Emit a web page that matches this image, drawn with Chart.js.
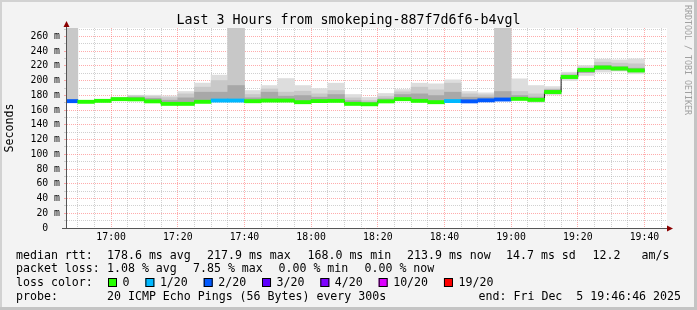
<!DOCTYPE html>
<html>
<head>
<meta charset="utf-8">
<style>
html, body { margin: 0; padding: 0; background: #f3f3f3; }
canvas { display: block; }
</style>
<script src="https://cdn.jsdelivr.net/npm/chart.js@4.4.1/dist/chart.umd.min.js"></script>
</head>
<body>
<canvas id="chart" width="697" height="310"></canvas>
<script>
// 5 minute buckets (start time of each step)
const buckets = ['16:45','16:50','16:55','17:00','17:05','17:10','17:15','17:20','17:25','17:30',
                 '17:35','17:40','17:45','17:50','17:55','18:00','18:05','18:10','18:15','18:20',
                 '18:25','18:30','18:35','18:40','18:45','18:50','18:55','19:00','19:05','19:10',
                 '19:15','19:20','19:25','19:30','19:35'];
// median rtt in ms
const medianRtt = [172.2,171.3,172.6,174.9,174.6,171.9,168.5,168.5,171.3,173.0,
                   173.0,172.1,173.0,173.0,170.8,172.3,172.6,168.5,168.0,171.9,
                   174.9,172.6,170.8,172.3,171.9,173.3,174.4,175.3,173.9,184.6,
                   205.0,214.5,217.9,216.5,213.9];
// lost pings out of 20
const lossCount = [2,0,0,0,0,0,0,0,0,1,
                   1,0,0,0,0,0,0,0,0,0,
                   0,0,0,1,2,2,2,0,0,0,
                   0,0,0,0,0];
// smoke: spread of the 20 pings (ms)
const pingMin  = [170.8,170.5,171.8,174.0,173.8,171.0,167.8,167.8,170.5,172.0,
                  172.0,171.3,172.2,172.2,170.0,171.5,171.8,167.7,167.2,171.1,
                  174.1,171.8,170.0,171.5,171.1,172.5,173.6,174.5,170.5,180.7,
                  200.2,207.1,211.6,213.0,209.3];
const pingLow  = [171.5,171.0,172.3,174.5,174.2,171.5,168.2,168.2,171.0,172.5,
                  172.5,171.8,172.6,172.6,170.4,172.0,172.2,168.2,167.6,171.5,
                  174.5,172.2,170.4,172.0,171.5,172.9,174.0,175.0,173.0,183.0,
                  203.0,211.0,215.0,214.5,212.0];
const pingCore = [174.0,172.0,173.5,176.5,177.6,176.0,173.5,176.7,184.4,184.4,
                  193.4,176.7,184.4,179.0,179.8,177.6,181.2,173.0,170.8,175.3,
                  181.2,182.1,179.8,184.4,177.6,177.6,185.3,179.9,177.6,187.5,
                  207.5,216.5,220.5,219.0,217.0];
const pingHigh = [280.0,172.5,174.0,177.0,179.4,178.5,177.0,182.0,191.2,200.2,
                  280.0,181.2,188.8,184.4,185.7,182.1,186.6,176.7,173.0,178.5,
                  184.8,191.2,187.5,196.6,182.1,180.8,280.0,185.3,182.1,188.8,
                  209.3,218.4,225.1,223.8,222.9];
const pingMax  = [280.0,173.0,174.5,177.5,180.3,180.3,179.4,185.3,196.7,207.5,
                  280.0,186.6,193.4,202.9,193.4,189.3,196.6,181.2,177.2,182.6,
                  188.0,196.6,195.7,201.1,185.3,183.5,280.0,202.5,193.4,192.0,
                  211.5,220.6,229.2,228.3,229.6];

const timeLabels = ['17:00','17:20','17:40','18:00','18:20','18:40','19:00','19:20','19:40'];
const yLabelValues = [0,20,40,60,80,100,120,140,160,180,200,220,240,260];

const lossLevels = [0, 1, 2, 3, 4, 10, 19];
const lossNames  = ['0','1/20','2/20','3/20','4/20','10/20','19/20'];
const lossColors = ['#26ff00','#00b8ff','#0059ff','#5e00ff','#7e00ff','#dd00ff','#ff0000'];

const medianStats = ['178.6 ms avg','217.9 ms max','168.0 ms min','213.9 ms now','14.7 ms sd','12.2','am/s'];
const lossStats = ['1.08 % avg','7.85 % max','0.00 % min','0.00 % now'];
const titleText = 'Last 3 Hours from smokeping-887f7d6f6-b4vgl';
const probeText = '20 ICMP Echo Pings (56 Bytes) every 300s';
const endText = 'end: Fri Dec  5 19:46:46 2025';

const MONO = 'DejaVu Sans Mono';
const STEP = 5;
const toMin = s => { const p = s.split(':').map(Number); return p[0] * 60 + p[1]; };
const fmt = v => {
  const t = Math.round(v);
  return String(Math.floor(t / 60)).padStart(2, '0') + ':' + String(t % 60).padStart(2, '0');
};
const endMin = toMin('19:46') + 46 / 60;
const startMin = endMin - 180;

function colorForLoss(n) {
  let c = lossColors[0];
  lossLevels.forEach((lv, i) => { if (n >= lv) c = lossColors[i]; });
  return c;
}

const centers = buckets.map(b => toMin(b) + STEP / 2);
const band = (lo, hi) => centers.map((x, i) => ({x: x, y: [lo[i], hi[i]]}));
const BAND = 2.2; // half thickness of the loss coloured median band
const medianBand = centers.map((x, i) => ({x: x, y: [medianRtt[i] - BAND, medianRtt[i] + BAND]}));
const medianLine = buckets.map((b, i) => ({x: toMin(b), y: medianRtt[i]}));
medianLine.push({x: toMin(buckets[buckets.length - 1]) + STEP, y: medianRtt[medianRtt.length - 1]});

const barOpts = {type: 'bar', grouped: false, categoryPercentage: 1, barPercentage: 1, borderWidth: 0};

const MAJOR = 'rgba(255,90,90,0.5)';
const MINOR = 'rgba(170,170,170,0.55)';

const framePlugin = {
  id: 'frame',
  beforeDraw(chart) {
    const ctx = chart.ctx, a = chart.chartArea;
    ctx.save();
    ctx.fillStyle = '#f3f3f3';
    ctx.fillRect(0, 0, chart.width, chart.height);
    ctx.fillStyle = '#d2d2d2';
    ctx.fillRect(0, 0, chart.width, 2);
    ctx.fillRect(0, 0, 2, chart.height);
    ctx.fillStyle = '#c4c4c4';
    ctx.fillRect(chart.width - 3, 0, 3, chart.height);
    ctx.fillRect(0, chart.height - 3, chart.width, 3);
    ctx.fillStyle = '#ffffff';
    ctx.fillRect(a.left, a.top, a.right - a.left, a.bottom - a.top);
    ctx.restore();
  },
  afterDraw(chart) {
    const ctx = chart.ctx, a = chart.chartArea;
    ctx.save();
    // axes
    ctx.strokeStyle = '#555555';
    ctx.lineWidth = 1;
    ctx.beginPath();
    ctx.moveTo(a.left - 0.5, a.bottom + 1);
    ctx.lineTo(a.left - 0.5, a.top - 2);
    ctx.moveTo(a.left - 5, a.bottom + 0.5);
    ctx.lineTo(a.right + 2, a.bottom + 0.5);
    ctx.stroke();
    ctx.fillStyle = '#8b0000';
    ctx.beginPath();
    ctx.moveTo(a.left - 0.5, a.top - 7);
    ctx.lineTo(a.left - 3.5, a.top - 1);
    ctx.lineTo(a.left + 2.5, a.top - 1);
    ctx.closePath();
    ctx.fill();
    ctx.beginPath();
    ctx.moveTo(a.right + 6, a.bottom + 0.5);
    ctx.lineTo(a.right, a.bottom - 2.5);
    ctx.lineTo(a.right, a.bottom + 3.5);
    ctx.closePath();
    ctx.fill();

    // title
    ctx.fillStyle = '#000';
    ctx.font = '13.3px "' + MONO + '"';
    ctx.textAlign = 'center';
    ctx.textBaseline = 'alphabetic';
    ctx.fillText(titleText, chart.width / 2, 23.5);

    // legend rows
    ctx.font = '11.6px "' + MONO + '"';
    ctx.textAlign = 'left';
    const rows = [258.5, 272.2, 286, 299.7];
    ctx.fillText('median rtt:', 16, rows[0]);
    [107, 207, 307.5, 407, 506, 592.5, 641.5].forEach((x, i) => ctx.fillText(medianStats[i], x, rows[0]));
    ctx.fillText('packet loss:', 16, rows[1]);
    [107, 193, 278.5, 364.5].forEach((x, i) => ctx.fillText(lossStats[i], x, rows[1]));
    ctx.fillText('loss color:', 16, rows[2]);
    let bx = 108;
    lossNames.forEach((name, i) => {
      ctx.fillStyle = lossColors[i];
      ctx.fillRect(bx, 278, 9, 9);
      ctx.strokeStyle = '#000';
      ctx.strokeRect(bx + 0.5, 278.5, 8, 8);
      ctx.fillStyle = '#000';
      ctx.fillText(name, bx + 14.5, rows[2]);
      bx += 30.4 + ctx.measureText(name).width;
    });
    ctx.fillText('probe:', 16, rows[3]);
    ctx.fillText(probeText, 107, rows[3]);
    ctx.textAlign = 'right';
    ctx.fillText(endText, 681, rows[3]);

    // watermark
    ctx.translate(687.5, 5);
    ctx.rotate(Math.PI / 2);
    ctx.textAlign = 'left';
    ctx.textBaseline = 'middle';
    ctx.fillStyle = '#a0a0a0';
    ctx.font = '8.3px "' + MONO + '"';
    ctx.fillText('RRDTOOL / TOBI OETIKER', 0, 0);
    ctx.restore();
  }
};

new Chart(document.getElementById('chart'), {
  type: 'bar',
  data: {
    datasets: [
      Object.assign({}, barOpts, {
        data: medianBand, order: 0,
        backgroundColor: ctx => colorForLoss(lossCount[ctx.dataIndex])
      }),
      {
        type: 'line', data: medianLine, order: 1, stepped: true,
        borderColor: '#202020', borderWidth: 1, pointRadius: 0, fill: false
      },
      Object.assign({}, barOpts, {data: band(pingLow, pingCore), backgroundColor: '#a8a8a8', order: 2}),
      Object.assign({}, barOpts, {data: band(pingLow, pingHigh), backgroundColor: '#c8c8c8', order: 3}),
      Object.assign({}, barOpts, {data: band(pingMin, pingMax), backgroundColor: '#dddddd', order: 4})
    ]
  },
  options: {
    responsive: false,
    animation: false,
    events: [],
    layout: {padding: {left: 0, right: 30, top: 28, bottom: 62}},
    plugins: {legend: {display: false}, tooltip: {enabled: false}, title: {display: false}},
    scales: {
      x: {
        type: 'linear', min: startMin, max: endMin, offset: false,
        afterBuildTicks: ax => {
          const t = [];
          for (let v = Math.ceil(startMin / STEP) * STEP; v <= endMin; v += STEP) t.push({value: v});
          ax.ticks = t;
        },
        afterFit: ax => { ax.height = 20; },
        grid: {
          offset: false, drawTicks: false, lineWidth: 1,
          color: c => timeLabels.includes(fmt(c.tick.value)) ? MAJOR : MINOR
        },
        border: {display: false, dash: [1, 1]},
        ticks: {
          autoSkip: false, maxRotation: 0, padding: 4, color: '#000',
          font: {family: MONO, size: 9.8},
          callback: v => timeLabels.includes(fmt(v)) ? fmt(v) : ''
        }
      },
      y: {
        min: 0, max: 271.5,
        afterBuildTicks: ax => {
          const t = [];
          for (let v = 0; v <= 270; v += 10) t.push({value: v});
          ax.ticks = t;
        },
        afterFit: ax => { ax.width = 67; },
        grid: {
          drawTicks: true, tickLength: 3, lineWidth: 1,
          color: c => yLabelValues.includes(c.tick.value) ? MAJOR : MINOR
        },
        border: {display: false, dash: [1, 1]},
        ticks: {
          autoSkip: false, padding: 4, color: '#000',
          font: {family: MONO, size: 9.8},
          callback: v => yLabelValues.includes(v) ? (v === 0 ? '0  ' : v + ' m') : ''
        },
        title: {
          display: true, text: 'Seconds', color: '#000',
          font: {family: MONO, size: 11.6},
          padding: {top: 3.5, bottom: 0}
        }
      }
    }
  },
  plugins: [framePlugin]
});
</script>
</body>
</html>
